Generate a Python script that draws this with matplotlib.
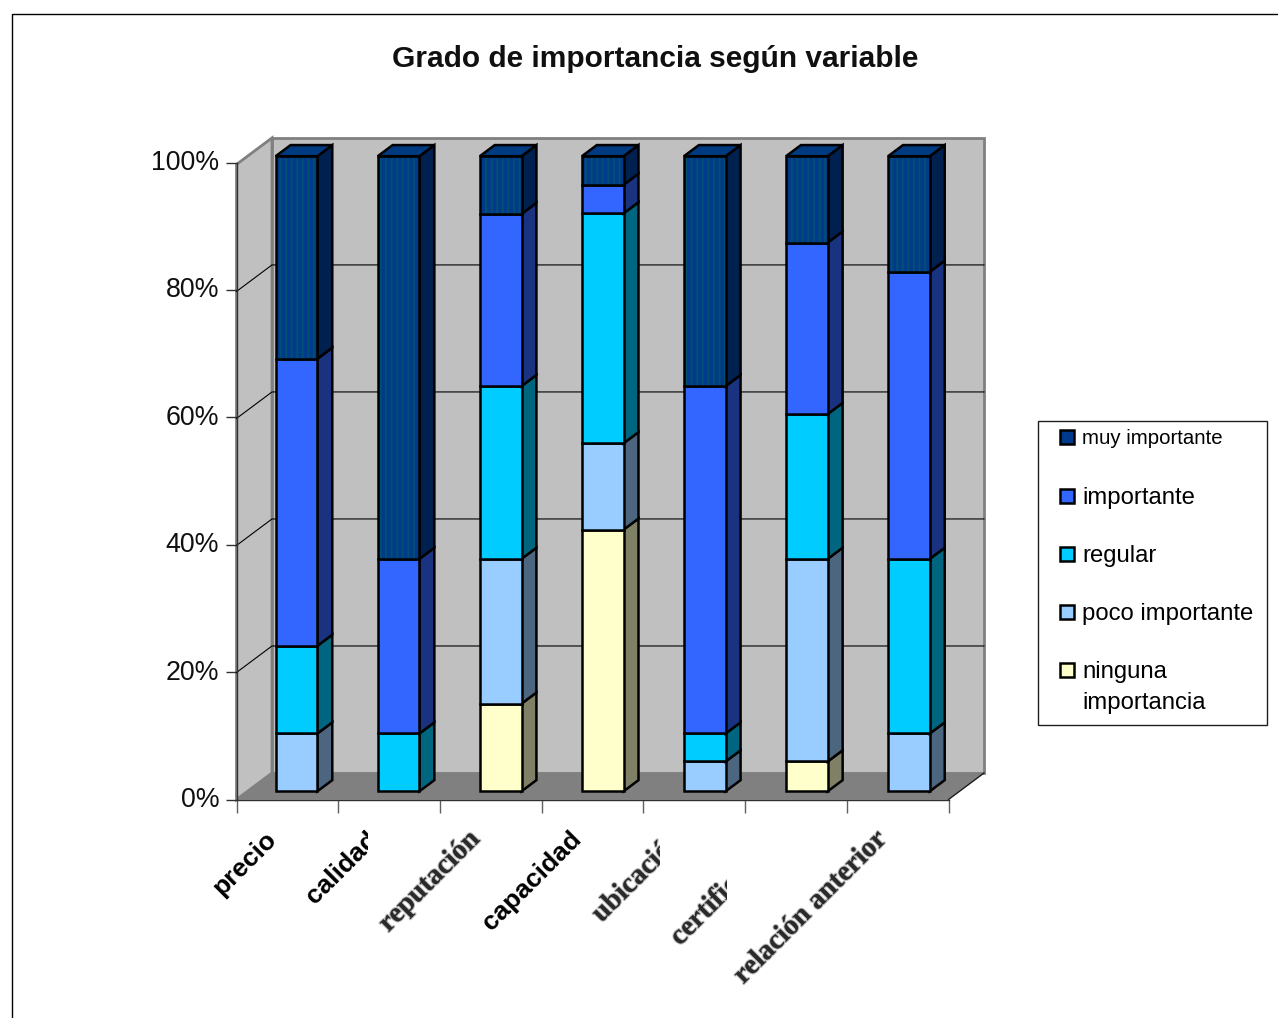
import matplotlib
matplotlib.use("Agg")
import matplotlib.pyplot as plt
import matplotlib.patheffects as pe
from matplotlib.patches import Polygon, Rectangle
from matplotlib.lines import Line2D
from matplotlib.transforms import Affine2D, ScaledTranslation

plt.rcParams["font.family"] = ["Liberation Sans", "DejaVu Sans"]
plt.rcParams["hatch.linewidth"] = 1.4

# Survey results, percent of answers per variable
categories = ["precio", "calidad", "reputación", "capacidad",
              "ubicación", "certificación", "relación anterior"]
ninguna = [0, 0, 13.8, 41.2, 0, 4.7, 0]
poco = [9.1, 0, 22.8, 13.6, 4.7, 31.9, 9.1]
regular = [13.8, 9.1, 27.2, 36.2, 4.4, 22.8, 27.5]
importante = [45.2, 27.5, 27.1, 4.5, 54.7, 27.0, 45.2]
muy = [31.9, 63.4, 9.1, 4.5, 36.2, 13.6, 18.2]

series = [ninguna, poco, regular, importante, muy]
legend_labels = ["muy importante", "importante", "regular",
                 "poco importante", "ninguna\nimportancia"]
front_colors = ["#FFFFCC", "#99CCFF", "#00CCFF", "#3366FF", "#003A8C"]
side_colors = ["#808066", "#4D6680", "#006680", "#1A3380", "#002050"]
top_color = "#003A80"
stripe_color = "#00506E"
y_ticks = [0, 20, 40, 60, 80, 100]

W, H = 1278, 1018
fig = plt.figure(figsize=(W / 100, H / 100), dpi=100, facecolor="white")
pixel = Affine2D().scale(1, -1).translate(0, H)

# Outer frame runs past the right and bottom edges of the sheet
fig.add_artist(Line2D([12, 12, W], [H, 13.5, 13.5], transform=pixel,
                      color="black", lw=1.0))

fig.text(655 / W, 1 - 59 / H, "Grado de importancia según variable",
         ha="center", va="center", fontsize=21.5, fontweight="bold",
         color="#101010")

ax_left, ax_right, ax_bottom, ax_top = 236.5, 948.5, 799.5, 162.5
ax = fig.add_axes([ax_left / W, 1 - ax_bottom / H,
                   (ax_right - ax_left) / W, (ax_bottom - ax_top) / H])
ax.patch.set_visible(False)

# Oblique depth: one unit of depth moves right and up by these data amounts
DEPTH_X = 35.5 / ((ax_right - ax_left) / 7)
DEPTH_Y = 26.5 / ((ax_bottom - ax_top) / 100)
Y_SCALE = 0.997


def proj(x, y, d=0.0):
    return (x + d * DEPTH_X, y * Y_SCALE + d * DEPTH_Y)


def poly(points, face, edge, lw=1.0, z=1):
    ax.add_patch(Polygon(points, closed=True, facecolor=face, edgecolor=edge,
                         lw=lw, zorder=z, clip_on=False, joinstyle="miter"))


# Walls and floor
poly([proj(0, 0, 0), proj(0, 100, 0), proj(0, 100, 1), proj(0, 0, 1)],
     "#C0C0C0", "#808080", 2.0, 1)
poly([proj(0, 0, 1), proj(0, 100, 1), proj(7, 100, 1), proj(7, 0, 1)],
     "#C0C0C0", "#808080", 2.0, 1)
for v in y_ticks[1:-1]:
    xs, ys = zip(proj(0, v, 0), proj(0, v, 1), proj(7, v, 1))
    ax.plot(xs, ys, color="black", lw=0.8, zorder=2, clip_on=False)
poly([proj(0, 0, 0), proj(7, 0, 0), proj(7, 0, 1), proj(0, 0, 1)],
     "#808080", "#808080", 0.5, 3)
xs, ys = zip(proj(7, 0, 0), proj(7, 0, 1))
ax.plot(xs, ys, color="#202020", lw=1.0, zorder=3, clip_on=False)

# Stacked columns, drawn left to right and bottom to top
BAR_START, BAR_STEP, BAR_W = 0.277, 1.0035, 0.41
D0, D1 = 0.31, 0.73
EDGE = 1.8
for i in range(len(categories)):
    base = 0.0
    x0 = i * BAR_STEP + BAR_START
    x1 = x0 + BAR_W
    z = 4 + i
    for s, vals in enumerate(series):
        v = vals[i]
        if v == 0:
            continue
        top = base + v
        poly([proj(x1, base, D0), proj(x1, top, D0),
              proj(x1, top, D1), proj(x1, base, D1)],
             side_colors[s], "black", EDGE, z)
        bx, by = proj(x0, base, D0)
        is_striped = s == len(series) - 1
        ax.bar(bx, v * Y_SCALE, bottom=by, width=BAR_W, align="edge",
               facecolor=front_colors[s],
               edgecolor=stripe_color if is_striped else "black",
               hatch="|||" if is_striped else None,
               lw=0 if is_striped else EDGE, zorder=z, clip_on=False)
        if is_striped:
            ax.bar(bx, v * Y_SCALE, bottom=by, width=BAR_W, align="edge",
                   fill=False, edgecolor="black", lw=EDGE, zorder=z,
                   clip_on=False)
        base = top
    poly([proj(x0, base, D0), proj(x1, base, D0),
          proj(x1, base, D1), proj(x0, base, D1)],
         top_color, "black", EDGE, z)

ax.set_xlim(0, 7)
ax.set_ylim(0, 100)
for name in ("top", "right"):
    ax.spines[name].set_visible(False)
for name in ("left", "bottom"):
    ax.spines[name].set_color("#303030")
    ax.spines[name].set_linewidth(1.0)
    ax.spines[name].set_zorder(3.5)
ax.set_yticks(y_ticks)
ax.set_yticklabels([f"{v}%" for v in y_ticks], fontsize=19.3, color="#101010")
ax.tick_params(axis="y", length=8, width=1.0, color="#303030", pad=4.5)
lift = ScaledTranslation(0, 2.5 / 100, fig.dpi_scale_trans)
for lab in ax.get_yticklabels():
    lab.set_transform(lab.get_transform() + lift)
ax.set_xticks(range(8))
ax.set_xticklabels([])
ax.tick_params(axis="x", length=9.5, width=1.0, color="#606060")

# Category labels: some are cut off at the end of the slot the chart gives them
clip_at = {"calidad": 368, "ubicación": 660, "certificación": 727}
smeared = {"reputación", "ubicación", "certificación", "relación anterior"}
for i, name in enumerate(categories):
    is_smeared = name in smeared
    t = ax.annotate(name, xy=(i + 0.5, 0), xycoords="data",
                    xytext=(-10.5, -26), textcoords="offset points",
                    rotation=45, rotation_mode="anchor",
                    ha="right", va="center",
                    fontsize=20.5 if is_smeared else 19, fontweight="bold",
                    family=["Liberation Serif"] if is_smeared else ["Liberation Sans"],
                    color="#2A2A2A" if is_smeared else "black",
                    annotation_clip=False)
    if is_smeared:
        t.set_path_effects([pe.withStroke(linewidth=1.6, foreground="#8A8A8A",
                                          alpha=0.55)])
    if name in clip_at:
        t.set_clip_path(Rectangle((0, 0), clip_at[name], H,
                                  transform=Affine2D().scale(1, 1)))
        t.set_clip_on(True)

# Legend box
fig.add_artist(Rectangle((1037.5, 421), 229.5, 303.5, transform=pixel, fill=False,
                         edgecolor="#202020", lw=1.0))
legend_y = [437, 496, 554, 612, 670]
legend_front = front_colors[::-1]
for k, (lab, y) in enumerate(zip(legend_labels, legend_y)):
    striped = k == 0
    fig.add_artist(Rectangle((1060, y - 7), 14, 14, transform=pixel,
                             facecolor=legend_front[k],
                             edgecolor="black", lw=1.8))
    size = 14.7 if striped else 17.2
    if "\n" in lab:
        for n, part in enumerate(lab.split("\n")):
            fig.text(1082 / W, 1 - (y + 2 + 31 * n) / H, part, fontsize=size,
                     va="center", ha="left")
    else:
        fig.text(1082 / W, 1 - (y + 2) / H, lab, fontsize=size, va="center", ha="left")

fig.savefig("out.png", dpi=100)
